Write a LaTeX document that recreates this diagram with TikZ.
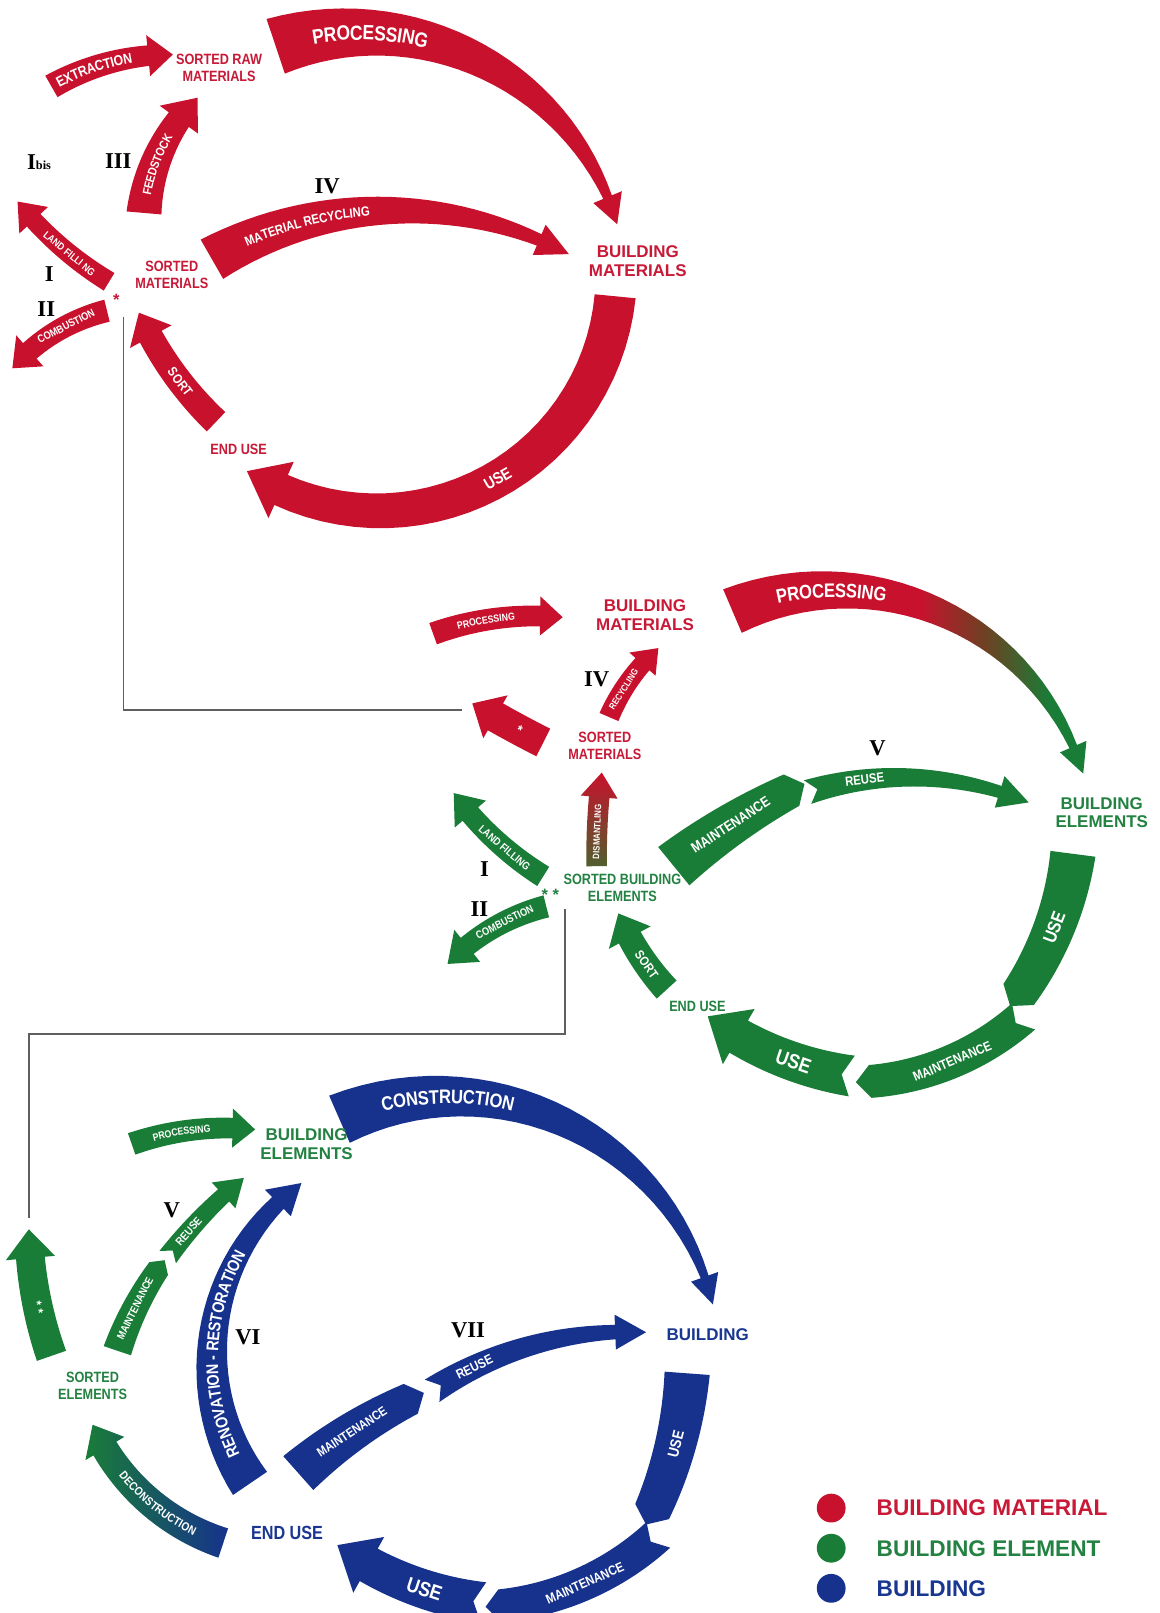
\documentclass[tikz,border=0pt]{standalone}
\usepackage{fontspec}
\usetikzlibrary{decorations.text}
\setmainfont{Liberation Sans}
\newfontfamily\lab[FakeStretch=0.85]{Liberation Sans}
\newfontfamily\numfont{Liberation Serif}
\definecolor{cred}{RGB}{200,18,45}
\definecolor{cgreen}{RGB}{25,125,55}
\definecolor{cblue}{RGB}{22,50,140}
\definecolor{cbrown}{RGB}{110,65,35}
\definecolor{colive}{RGB}{80,95,45}
\definecolor{cgray}{RGB}{95,95,95}
\definecolor{tred}{RGB}{200,25,55}
\definecolor{tgreen}{RGB}{35,130,65}
\definecolor{tblue}{RGB}{25,55,145}
\pgfdeclarehorizontalshading{procgrad}{100bp}{color(0bp)=(cred); color(25bp)=(cred); color(52bp)=(cred); color(61bp)=(cbrown); color(70bp)=(cgreen); color(75bp)=(cgreen); color(100bp)=(cgreen)}
\newcount\aaid
\def\aaempty{}
\pgfkeys{/aa/.cd,
 x0/.store in=\aaxa, y0/.store in=\aaya, x1/.store in=\aaxb, y1/.store in=\aayb,
 p0/.style 2 args={x0=#1,y0=#2}, p1/.style 2 args={x1=#1,y1=#2},
 d/.store in=\aad, w0/.store in=\aawa, w1/.store in=\aawb, hw/.store in=\aahw, hl/.store in=\aahl,
 notch/.store in=\aanotch, sx/.store in=\aasx,
 st/.code={\tikzset{aastyle/.style={#1}}},
 text/.store in=\aatext, tpos/.store in=\aatpos, trot/.store in=\aatrot,
 tsize/.store in=\aatsize, tcol/.store in=\aatcol, tshift/.store in=\aatshift,
 curve/.store in=\aacurve, trev/.store in=\aatrev}
\newcommand\arcarrow[1]{%
 \begingroup
 \pgfkeys{/aa/.cd, d=20, w0=20, w1=20, hw=36, hl=24, notch=0, sx=1, st={fill=cred}, text={}, tpos=0.5, trot=0, tsize=12, tcol=white, tshift=0, curve=0, trev=0, #1}%
 \pgfmathsetmacro\aaXa{\aaxa/\aasx}%
 \pgfmathsetmacro\aaXb{\aaxb/\aasx}%
 \pgfmathsetmacro\aac{veclen(\aaXb-\aaXa,\aayb-\aaya)}%
 \pgfmathsetmacro\aaux{(\aaXb-\aaXa)/\aac}%
 \pgfmathsetmacro\aauy{(\aayb-\aaya)/\aac}%
 \pgfmathsetmacro\aars{\aac/(2*sin(\aad/2))}%
 \pgfmathsetmacro\aar{abs(\aars)}%
 \pgfmathsetmacro\aacx{(\aaXa+\aaXb)/2-\aauy*\aars*cos(\aad/2)}%
 \pgfmathsetmacro\aacy{(\aaya+\aayb)/2+\aaux*\aars*cos(\aad/2)}%
 \pgfmathsetmacro\aaa{atan2(\aaya-\aacy,\aaXa-\aacx)}%
 \pgfmathsetmacro\aab{\aaa+\aad}%
 \pgfmathsetmacro\aasg{sign(\aad)}%
 \pgfmathsetmacro\aah{\aab-\aasg*\aahl/\aar*180/pi}%
 \pgfmathsetmacro\aan{\aaa+\aasg*\aanotch/\aar*180/pi}%
 \path[aastyle]
   plot[domain=\aaa:\aah, samples=30, variable=\t]
     ({\aasx*(\aacx+(\aar+(\aawa+(\aawb-\aawa)*(\t-\aaa)/(\aah-\aaa))/2)*cos(\t))},
      {\aacy+(\aar+(\aawa+(\aawb-\aawa)*(\t-\aaa)/(\aah-\aaa))/2)*sin(\t)})
   -- ({\aasx*(\aacx+(\aar+\aahw/2)*cos(\aah))},{\aacy+(\aar+\aahw/2)*sin(\aah)})
   -- ({\aasx*(\aacx+\aar*cos(\aab))},{\aacy+\aar*sin(\aab)})
   -- ({\aasx*(\aacx+(\aar-\aahw/2)*cos(\aah))},{\aacy+(\aar-\aahw/2)*sin(\aah)})
   -- plot[domain=\aah:\aaa, samples=30, variable=\t]
     ({\aasx*(\aacx+(\aar-(\aawa+(\aawb-\aawa)*(\t-\aaa)/(\aah-\aaa))/2)*cos(\t))},
      {\aacy+(\aar-(\aawa+(\aawb-\aawa)*(\t-\aaa)/(\aah-\aaa))/2)*sin(\t)})
   -- ({\aasx*(\aacx+\aar*cos(\aan))},{\aacy+\aar*sin(\aan)}) -- cycle;
 \ifx\aatext\aaempty\else
   \pgfmathsetmacro\aat{\aaa+\aatpos*(\aah-\aaa)}%
   \ifnum\aacurve=1
     \pgfmathsetmacro\aas{min(abs(\aat-\aaa),abs(\aah-\aat))}%
     \ifnum\aatrev=1
       \pgfmathsetmacro\aatA{\aat+\aasg*\aas}%
       \pgfmathsetmacro\aatB{\aat-\aasg*\aas}%
     \else
       \pgfmathsetmacro\aatA{\aat-\aasg*\aas}%
       \pgfmathsetmacro\aatB{\aat+\aasg*\aas}%
     \fi
     \pgfmathsetmacro\aaraise{-0.36*\aatsize}%
     \edef\aatxt{|\noexpand\lab\noexpand\bfseries\noexpand\fontsize{\aatsize}{\aatsize}\noexpand\selectfont|\aatext}%
     \path[decorate, decoration={text along path, text/.expand once=\aatxt, text align=center, raise=\aaraise pt, text color=\aatcol}]
       plot[domain=\aatA:\aatB, samples=40, variable=\t]
       ({\aasx*(\aacx+(\aar+\aatshift)*cos(\t))},{\aacy+(\aar+\aatshift)*sin(\t)});
   \else
     \pgfmathsetmacro\aalx{\aasx*(\aacx+(\aar+\aatshift)*cos(\aat))}%
     \pgfmathsetmacro\aaly{\aacy+(\aar+\aatshift)*sin(\aat)}%
     \pgfmathsetmacro\aarot{mod(atan2(-cos(\aat),-\aasx*sin(\aat))+450,180)-90+\aatrot}%
     \global\advance\aaid by 1
     \node[lbl, text=\aatcol, rotate=\aarot, font=\lab\bfseries\fontsize{\aatsize}{\aatsize}\selectfont] (aalbl\the\aaid) at (\aalx,\aaly) {\aatext};
   \fi
 \fi
 \endgroup}
\tikzset{
 lbl/.style={inner sep=0pt},
 rnum/.style={font=\numfont\bfseries\fontsize{22}{22}\selectfont, text=black, inner sep=0pt},
 mlab/.style={align=center, inner sep=0pt, font=\lab\bfseries\fontsize{14.5}{16}\selectfont},
 blab/.style={align=center, inner sep=0pt, font=\bfseries\fontsize{16.5}{18}\selectfont},
 conn/.style={draw=cgray, line width=1.5pt},
 legtxt/.style={anchor=west, inner sep=0pt, font=\bfseries\fontsize{22}{22}\selectfont},
 star/.style={inner sep=0pt, font=\bfseries\fontsize{16}{16}\selectfont}
}
\begin{document}
\begin{tikzpicture}[x=1pt, y=-1pt]
\fill[white] (0,0) rectangle (1127,1568);
\useasboundingbox (0,0) rectangle (1127,1568);

% connectors
\coordinate (ca1) at (120,308);
\coordinate (ca2) at (120,690);
\coordinate (ca3) at (449,690);
\coordinate (cb1) at (549,884);
\coordinate (cb2) at (549,1005);
\coordinate (cb3) at (28,1005);
\coordinate (cb4) at (28,1184);
\draw[conn] (ca1) -- (ca2) -- (ca3);
\draw[conn] (cb1) -- (cb2) -- (cb3) -- (cb4);

% ===== TOP (building material) =====
\arcarrow{p0={50}{84}, p1={168}{53}, d=30, w0=24, w1=20, hw=40, hl=24, text=EXTRACTION, tsize=14, tpos=0.45, curve=1}
\arcarrow{p0={268}{45}, p1={600}{218}, d=92, w0=56, w1=9, hw=30, hl=28, text=PROCESSING, tsize=20, tpos=0.24, curve=1}
\arcarrow{p0={140}{207}, p1={192}{95}, d=40, w0=34, w1=24, hw=46, hl=28, text=FEEDSTOCK, tsize=12, curve=1}
\arcarrow{p0={106}{274}, p1={17}{196}, d=20, w0=20, w1=18, hw=38, hl=24, text={LAND FILLI NG}, tsize=10}
\arcarrow{p0={104}{302}, p1={12}{358}, d=-35, w0=22, w1=20, hw=40, hl=24, text=COMBUSTION, tsize=10.5}
\arcarrow{p0={206}{252}, p1={553}{247}, d=58, w0=44, w1=12, hw=32, hl=32, text={MATERIAL RECYCLING}, tsize=13, tpos=0.3, curve=1}
\arcarrow{p0={598}{288}, p1={240}{458}, d=118, w0=40, w1=32, hw=60, hl=38, text=USE, tsize=16, tpos=0.5}
\arcarrow{p0={210}{410}, p1={135}{304}, d=22, w0=26, w1=24, hw=46, hl=26, text=SORT, tsize=13}

\node[mlab, text=tred] (srm) at (213,66) {SORTED RAW\\MATERIALS};
\node[mlab, text=tred] (sm1) at (167,267) {SORTED\\MATERIALS};
\node[blab, text=tred] (bm1) at (620,254) {BUILDING\\MATERIALS};
\node[mlab, text=tred] (eu1) at (232,437) {END USE};
\node[star, text=tred] (st1) at (113,291) {*};
\node[rnum] (ibis) at (38,158) {I{\fontsize{12}{12}\selectfont bis}};
\node[rnum] (r3) at (115,157) {III};
\node[rnum] (r1a) at (48,266) {I};
\node[rnum] (r2a) at (45,300) {II};
\node[rnum] (r4a) at (318,181) {IV};

% ===== MIDDLE (building element) =====
\arcarrow{p0={421}{616}, p1={547}{600}, d=25, w0=22, w1=20, hw=38, hl=22, text=PROCESSING, tsize=10, curve=1}
\arcarrow{p0={712}{594}, p1={1053}{752}, d=96, w0=46, w1=8, hw=28, hl=28, st={shade, shading=procgrad}, text=PROCESSING, tsize=19, tpos=0.25, curve=1}
\arcarrow{p0={592}{697}, p1={640}{630}, d=25, w0=20, w1=18, hw=34, hl=22, text=RECYCLING, tsize=9}
\arcarrow{p0={528}{722}, p1={459}{684}, d=4, w0=30, w1=30, hw=48, hl=26, text={*}, tsize=14}
\arcarrow{p0={580}{842}, p1={585}{751}, d=8, w0=20, w1=20, hw=36, hl=24, st={bottom color=colive, top color=cred}, text=DISMANTLING, tsize=9}
\arcarrow{p0={528}{852}, p1={441}{771}, d=22, w0=22, w1=20, hw=40, hl=26, st={fill=cgreen}, text={LAND FILLING}, tsize=10.5}
\arcarrow{p0={531}{881}, p1={435}{937}, d=-32, w0=22, w1=20, hw=40, hl=26, st={fill=cgreen}, text=COMBUSTION, tsize=10.5}
\arcarrow{p0={655}{842}, p1={782}{762}, d=14, w0=48, w1=34, hw=34, hl=14, st={fill=cgreen}, text=MAINTENANCE, tsize=14}
\arcarrow{p0={785}{770}, p1={1000}{780}, d=40, w0=24, w1=12, hw=32, hl=30, notch=10, st={fill=cgreen}, text=REUSE, tsize=13, tpos=0.3}
\arcarrow{p0={1043}{830}, p1={982}{978}, d=30, w0=44, w1=36, hw=36, hl=14, st={fill=cgreen}, text=USE, tsize=18}
\arcarrow{p0={995}{988}, p1={832}{1052}, d=40, w0=34, w1=32, hw=32, hl=14, notch=10, st={fill=cgreen}, text=MAINTENANCE, tsize=13}
\arcarrow{p0={828}{1046}, p1={688}{988}, d=28, w0=40, w1=36, hw=62, hl=36, notch=10, st={fill=cgreen}, text=USE, tsize=20}
\arcarrow{p0={648}{962}, p1={601}{888}, d=20, w0=26, w1=24, hw=46, hl=26, st={fill=cgreen}, text=SORT, tsize=12.5}

\node[blab, text=tred] (bm2) at (627,598) {BUILDING\\MATERIALS};
\node[mlab, text=tred] (sm2) at (588,725) {SORTED\\MATERIALS};
\node[rnum] (r4b) at (580,660) {IV};
\node[rnum] (r5a) at (853,727) {V};
\node[blab, text=tgreen] (be1) at (1071,790) {BUILDING\\ELEMENTS};
\node[mlab, text=tgreen] (sbe) at (605,863) {SORTED BUILDING\\ELEMENTS};
\node[star, text=tgreen] (st2) at (535,870) {* *};
\node[rnum] (r1b) at (471,845) {I};
\node[rnum] (r2b) at (466,884) {II};
\node[mlab, text=tgreen] (eu2) at (678,978) {END USE};

% ===== BOTTOM (building) =====
\arcarrow{p0={128}{1112}, p1={248}{1098}, d=25, w0=22, w1=20, hw=38, hl=22, st={fill=cgreen}, text=PROCESSING, tsize=10, curve=1}
\arcarrow{p0={330}{1088}, p1={693}{1268}, d=100, w0=50, w1=8, hw=28, hl=28, st={fill=cblue}, text=CONSTRUCTION, tsize=19, tpos=0.25, curve=1}
\arcarrow{p0={50}{1318}, p1={28}{1195}, d=18, w0=30, w1=28, hw=48, hl=28, st={fill=cgreen}, text={* *}, tsize=13}
\arcarrow{p0={114}{1313}, p1={160}{1225}, d=18, w0=28, w1=22, hw=22, hl=10, st={fill=cgreen}, text=MAINTENANCE, tsize=10.5}
\arcarrow{p0={163}{1222}, p1={237}{1145}, d=14, w0=20, w1=16, hw=34, hl=26, notch=8, st={fill=cgreen}, text=REUSE, tsize=11, tpos=0.4}
\arcarrow{p0={243}{1442}, p1={293}{1150}, d=88, w0=40, w1=16, hw=36, hl=30, st={fill=cblue}, text={RENOVATION - RESTORATION}, tsize=16.5, tpos=0.45, curve=1}
\arcarrow{p0={217}{1500}, p1={90}{1385}, d=48, w0=30, w1=26, hw=44, hl=26, st={left color=cgreen, right color=cblue}, text=DECONSTRUCTION, tsize=11.5, curve=1, trev=1}
\arcarrow{p0={290}{1432}, p1={412}{1354}, d=18, w0=44, w1=32, hw=32, hl=14, st={fill=cblue}, text=MAINTENANCE, tsize=12.5}
\arcarrow{p0={420}{1352}, p1={628}{1295}, d=36, w0=26, w1=14, hw=34, hl=30, notch=10, st={fill=cblue}, text=REUSE, tsize=13, tpos=0.25}
\arcarrow{p0={668}{1335}, p1={628}{1482}, d=22, w0=44, w1=36, hw=36, hl=14, st={fill=cblue}, text=USE, tsize=15}
\arcarrow{p0={640}{1492}, p1={472}{1562}, d=40, w0=34, w1=32, hw=32, hl=14, notch=10, st={fill=cblue}, text=MAINTENANCE, tsize=13}
\arcarrow{p0={470}{1558}, p1={328}{1502}, d=28, w0=40, w1=36, hw=62, hl=36, notch=10, st={fill=cblue}, text=USE, tsize=20}

\node[blab, text=tgreen] (be2) at (298,1112) {BUILDING\\ELEMENTS};
\node[blab, text=tblue] (bld) at (688,1297) {BUILDING};
\node[rnum] (r5b) at (167,1176) {V};
\node[rnum] (r6) at (241,1300) {VI};
\node[rnum] (r7) at (455,1293) {VII};
\node[mlab, text=tgreen] (se) at (90,1347) {SORTED\\ELEMENTS};
\node[mlab, text=tblue, font=\lab\bfseries\fontsize{18.5}{20}\selectfont] (eu3) at (279,1490) {END USE};

% ===== LEGEND =====
\fill[cred] (808,1466) circle (14) node[coordinate] (lc1) {};
\fill[cgreen] (808,1505) circle (14) node[coordinate] (lc2) {};
\fill[cblue] (808,1544) circle (14) node[coordinate] (lc3) {};
\node[legtxt, text=tred] (leg1) at (852,1466) {BUILDING MATERIAL};
\node[legtxt, text=tgreen] (leg2) at (852,1505) {BUILDING ELEMENT};
\node[legtxt, text=tblue] (leg3) at (852,1544) {BUILDING};
\end{tikzpicture}
\end{document}
